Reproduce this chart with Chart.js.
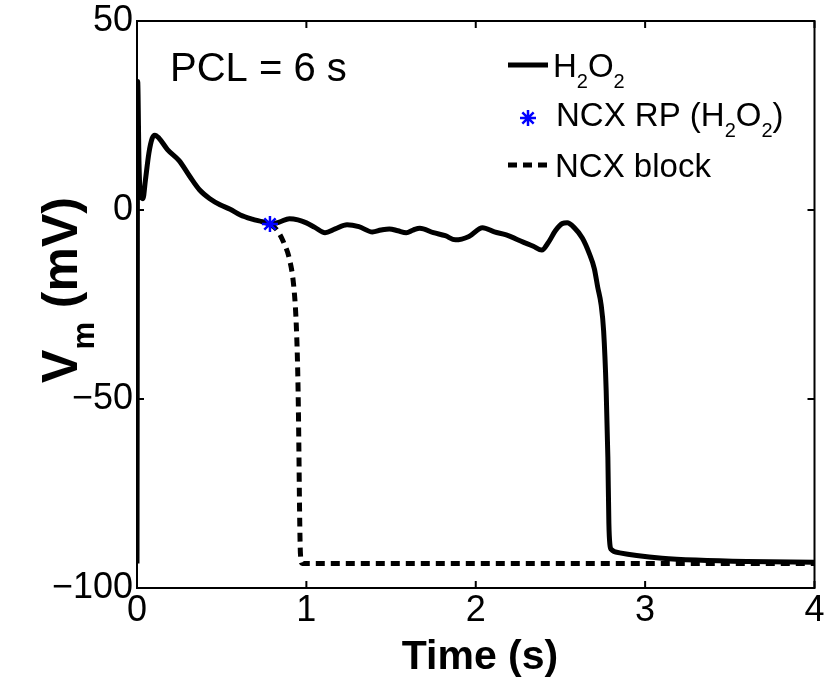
<!DOCTYPE html>
<html>
<head>
<meta charset="utf-8">
<script src="https://cdn.jsdelivr.net/npm/chart.js@4.4.0/dist/chart.umd.min.js"></script>
<style>
  body { margin: 0; background: #fff; }
  #wrap { width: 825px; height: 686px; position: relative; }
</style>
</head>
<body>
<div id="wrap"><canvas id="vmChart"></canvas></div>
<script>
// H2O2 action potential (time in s, Vm in mV)
const timeH2O2 = [0, 0.004, 0.012, 0.02, 0.035, 0.05, 0.07, 0.09, 0.105, 0.13, 0.18, 0.25, 0.31, 0.37, 0.43, 0.49, 0.55, 0.61, 0.68, 0.74, 0.785,
  0.84, 0.90, 0.95, 1.0, 1.05, 1.11, 1.17, 1.24, 1.31, 1.39, 1.44, 1.49, 1.54, 1.59, 1.63, 1.67, 1.75, 1.82, 1.88, 1.96, 2.04, 2.11, 2.18,
  2.28, 2.34, 2.39, 2.43, 2.47, 2.51, 2.54, 2.58, 2.63, 2.67, 2.70, 2.72, 2.74, 2.755, 2.77, 2.78, 2.786, 2.792, 2.80, 2.85, 2.95, 3.1, 3.3, 3.6, 4.0];
const vmH2O2 = [-93.5, 34, 12, 4, 3, 8, 15, 19, 19.8, 19, 16, 13, 9, 5.3, 3, 1.4, 0.2, -1.3, -2.4, -3.1, -3.7,
  -3.2, -2.3, -2.6, -3.4, -4.6, -6, -5, -3.9, -4.4, -5.8, -5.3, -5, -5.5, -6, -5.3, -4.8, -6, -6.8, -7.9, -7, -4.7, -5.8, -6.6,
  -8.5, -9.6, -10.6, -8.5, -5.5, -3.6, -3.4, -4.6, -7.5, -11.5, -15.5, -20.4, -25, -32, -47.7, -65.4, -82.9, -88.5, -89.8, -90.7, -91.4, -92.1, -92.6, -93, -93.2];

// NCX block trace
const timeBlock = [0.785, 0.83, 0.87, 0.90, 0.925, 0.94, 0.95, 0.955, 0.96, 0.965, 0.975, 1.5, 2, 3, 4];
const vmBlock = [-3.7, -5.5, -9, -13, -20, -30, -45, -60, -80, -91, -93.5, -93.5, -93.5, -93.5, -93.5];

// NCX repolarization point
const rpTime = [0.785];
const rpVm = [-3.7];

const xTicks = [0, 1, 2, 3, 4];
const yTicks = [-100, -50, 0, 50];

const toXY = (xs, ys) => xs.map((t, i) => ({ x: t, y: ys[i] }));
const FONT = "'Liberation Sans', Arial, sans-serif";

// draw text with subscripts: parts = [[text, isSub], ...]
const richWidth = (ctx, parts, size, bold) => {
  let w = 0;
  parts.forEach(([t, sub]) => {
    ctx.font = `${bold ? 'bold ' : ''}${sub ? Math.round(size * 0.62) : size}px ${FONT}`;
    w += ctx.measureText(t).width;
  });
  return w;
};
const drawRich = (ctx, parts, x, y, size, bold) => {
  parts.forEach(([t, sub]) => {
    ctx.font = `${bold ? 'bold ' : ''}${sub ? Math.round(size * 0.62) : size}px ${FONT}`;
    ctx.fillText(t, x, sub ? y + size * 0.33 : y);
    x += ctx.measureText(t).width;
  });
};

const framePlugin = {
  id: 'frame',
  afterDraw(chart) {
    const { ctx, chartArea: a, scales: { x, y } } = chart;
    ctx.save();
    ctx.strokeStyle = '#000';
    ctx.fillStyle = '#000';
    ctx.lineWidth = 2;
    ctx.strokeRect(a.left, a.top, a.right - a.left, a.bottom - a.top);

    // inward ticks on all four sides
    const tl = 7;
    ctx.beginPath();
    xTicks.forEach(v => {
      const px = x.getPixelForValue(v);
      ctx.moveTo(px, a.bottom); ctx.lineTo(px, a.bottom - tl);
      ctx.moveTo(px, a.top); ctx.lineTo(px, a.top + tl);
    });
    yTicks.forEach(v => {
      const py = y.getPixelForValue(v);
      ctx.moveTo(a.left, py); ctx.lineTo(a.left + tl, py);
      ctx.moveTo(a.right, py); ctx.lineTo(a.right - tl, py);
    });
    ctx.stroke();

    // axis titles
    ctx.textBaseline = 'alphabetic';
    ctx.textAlign = 'left';
    ctx.font = `bold 41px ${FONT}`;
    const xt = 'Time (s)';
    ctx.fillText(xt, 480 - ctx.measureText(xt).width / 2, 669);

    const yParts = [['V', false], ['m', true], [' (mV)', false]];
    const yw = richWidth(ctx, yParts, 50, true);
    ctx.save();
    ctx.translate(77, 290 + yw / 2);
    ctx.rotate(-Math.PI / 2);
    drawRich(ctx, yParts, 0, 0, 50, true);
    ctx.restore();

    // annotation
    ctx.font = `40px ${FONT}`;
    ctx.fillText('PCL = 6 s', 170, 81);

    // legend
    ctx.lineWidth = 5;
    ctx.setLineDash([]);
    ctx.beginPath(); ctx.moveTo(508, 65); ctx.lineTo(548, 65); ctx.stroke();
    drawRich(ctx, [['H', false], ['2', true], ['O', false], ['2', true]], 553, 77, 33, false);

    ctx.strokeStyle = '#0000ff';
    ctx.lineWidth = 2.5;
    Chart.helpers.drawPoint(ctx, { pointStyle: 'star', radius: 8, rotation: 0, borderWidth: 2.5 }, 528, 118);
    ctx.fillStyle = '#000';
    drawRich(ctx, [['NCX RP (H', false], ['2', true], ['O', false], ['2', true], [')', false]], 556, 126, 33, false);

    ctx.strokeStyle = '#000';
    ctx.lineWidth = 5;
    ctx.setLineDash([9, 6]);
    ctx.beginPath(); ctx.moveTo(508, 165); ctx.lineTo(550, 165); ctx.stroke();
    ctx.setLineDash([]);
    drawRich(ctx, [['NCX block', false]], 555, 177, 33, false);
    ctx.restore();
  }
};

new Chart(document.getElementById('vmChart'), {
  type: 'line',
  data: {
    datasets: [
      {
        label: 'NCX block',
        data: toXY(timeBlock, vmBlock),
        borderColor: '#000',
        borderWidth: 5,
        borderDash: [9, 6],
        pointRadius: 0,
        cubicInterpolationMode: 'monotone',
        fill: false,
        order: 3,
      },
      {
        label: 'H2O2',
        data: toXY(timeH2O2, vmH2O2),
        borderColor: '#000',
        borderWidth: 5,
        pointRadius: 0,
        cubicInterpolationMode: 'monotone',
        fill: false,
        order: 2,
      },
      {
        label: 'NCX RP (H2O2)',
        data: toXY(rpTime, rpVm),
        showLine: false,
        pointStyle: 'star',
        pointRadius: 8,
        pointBorderWidth: 2.5,
        borderColor: '#0000ff',
        backgroundColor: '#0000ff',
        order: 1,
      },
    ],
  },
  options: {
    responsive: true,
    maintainAspectRatio: false,
    animation: false,
    layout: { padding: { left: 0, right: 0, top: 21, bottom: 0 } },
    plugins: { legend: { display: false }, tooltip: { enabled: false } },
    scales: {
      x: {
        type: 'linear',
        min: 0,
        max: 4,
        afterBuildTicks: (s) => { s.ticks = xTicks.map(v => ({ value: v })); },
        afterFit: (s) => { s.height = 98; s.paddingRight = 10; },
        grid: { display: false, drawTicks: false },
        border: { display: false },
        ticks: { color: '#000', padding: 1, maxRotation: 0, font: { family: FONT, size: 36 } },
      },
      y: {
        type: 'linear',
        min: -100,
        max: 50,
        afterBuildTicks: (s) => { s.ticks = yTicks.map(v => ({ value: v })); },
        afterFit: (s) => { s.width = 137; s.paddingTop = 0; s.paddingBottom = 0; },
        grid: { display: false, drawTicks: false },
        border: { display: false },
        ticks: {
          color: '#000',
          padding: 4,
          font: { family: FONT, size: 36 },
          callback: (v) => (v < 0 ? '\u2212' + Math.abs(v) : String(v)),
        },
      },
    },
  },
  plugins: [framePlugin],
});
</script>
</body>
</html>
